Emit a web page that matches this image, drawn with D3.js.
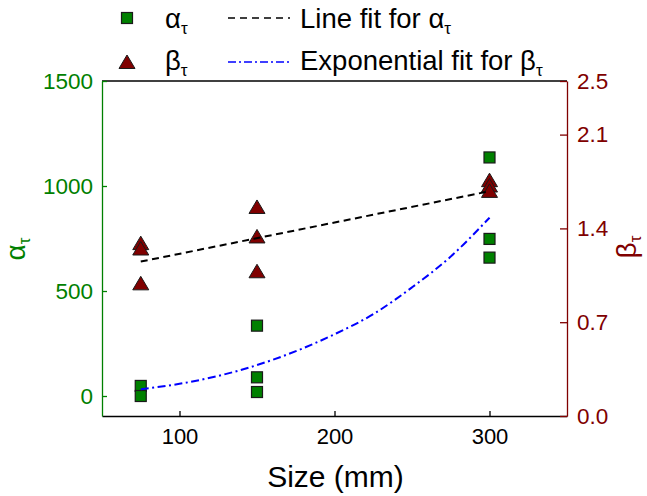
<!DOCTYPE html>
<html><head><meta charset="utf-8">
<script src="https://cdn.jsdelivr.net/npm/d3@7/dist/d3.min.js"></script>
<style>
body{margin:0;background:#fff;}
svg{display:block;font-family:"Liberation Sans",Arial,sans-serif;}
</style></head>
<body><svg id="c" width="647" height="496"></svg>
<script>
// ---- data ----
const alphaX = [75, 75, 150, 150, 150, 300, 300, 300];
const alphaY = [48, 0, 335, 89, 19, 1136, 748, 659];
const betaX = [75, 75, 75, 150, 150, 150, 300, 300, 300];
const betaY = [1.29, 1.25, 0.99, 1.56, 1.34, 1.08, 1.76, 1.72, 1.68];
const lineFitX = [75, 300];
const lineFitAlpha = [640, 975];
const expFitX = [75, 100, 150, 200, 225, 250, 275, 300];
const expFitBeta = [0.20, 0.24, 0.38, 0.61, 0.76, 0.96, 1.19, 1.48];
const xTicks = [100, 200, 300];
const leftTicks = [0, 500, 1000, 1500];
const rightTicks = [0, 0.7, 1.4, 2.1, 2.5];

const GREEN = "#008000", RED = "#800000", BLUE = "#0000ff";
const L = 102, R = 567, T = 81, B = 416;
const svg = d3.select("#c");

const x = d3.scaleLinear().domain([50, 350]).range([L, R]);
const yL = d3.scaleLinear().domain([-95.2, 1500]).range([B, T]);
const yR = d3.scaleLinear().domain([0, 2.5]).range([B, T]);

// top border
svg.append("line").attr("x1", L).attr("x2", R).attr("y1", T).attr("y2", T)
  .attr("stroke", "#000").attr("stroke-width", 1.3);

// bottom axis
const gx = svg.append("g").attr("transform", `translate(0,${B})`)
  .call(d3.axisBottom(x).tickValues(xTicks).tickFormat(d3.format("d")).tickSizeInner(-5).tickSizeOuter(0).tickPadding(12));
gx.select(".domain").attr("stroke", "#000").attr("stroke-width", 1.3);
gx.selectAll(".tick line").attr("stroke", "#000").attr("stroke-width", 1.3);
gx.selectAll("text").attr("font-size", 22).attr("fill", "#000").attr("font-family", "Liberation Sans, Arial, sans-serif");

// left axis
const gl = svg.append("g").attr("transform", `translate(${L},0)`)
  .call(d3.axisLeft(yL).tickValues(leftTicks).tickFormat(d3.format("d")).tickSizeInner(-5).tickSizeOuter(0).tickPadding(9));
gl.select(".domain").attr("stroke", GREEN).attr("stroke-width", 1.3);
gl.selectAll(".tick line").attr("stroke", GREEN).attr("stroke-width", 1.3);
gl.selectAll("text").attr("font-size", 22.5).attr("fill", GREEN).attr("font-family", "Liberation Sans, Arial, sans-serif");

// right axis
const gr = svg.append("g").attr("transform", `translate(${R},0)`)
  .call(d3.axisRight(yR).tickValues(rightTicks).tickFormat(d3.format(".1f")).tickSizeInner(-7).tickSizeOuter(0).tickPadding(10));
gr.select(".domain").attr("stroke", RED).attr("stroke-width", 1.3);
gr.selectAll(".tick line").attr("stroke", RED).attr("stroke-width", 1.3);
gr.selectAll("text").attr("font-size", 22.5).attr("fill", RED).attr("font-family", "Liberation Sans, Arial, sans-serif");

// axis titles
svg.append("text").attr("x", (L + R) / 2 + 1).attr("y", 487).attr("text-anchor", "middle")
  .attr("font-size", 30).attr("fill", "#000").text("Size (mm)");

function greekTitle(xp, yp, main, color) {
  const g = svg.append("g").attr("transform", `translate(${xp},${yp}) rotate(-90)`);
  const t = g.append("text").attr("x", 0).attr("y", 0)
    .attr("text-anchor", "middle").attr("font-size", 28).attr("fill", color);
  t.append("tspan").text(main);
  t.append("tspan").attr("font-size", 17).attr("dy", 5).text("τ");
}
greekTitle(25, 249, "α", GREEN);
greekTitle(636, 247, "β", RED);

// markers
const sq = 11;
svg.append("g").selectAll("rect").data(alphaX).join("rect")
  .attr("x", (d) => x(d) - sq / 2).attr("y", (d, i) => yL(alphaY[i]) - sq / 2)
  .attr("width", sq).attr("height", sq)
  .attr("fill", GREEN).attr("stroke", "#1a1a1a").attr("stroke-width", 1.2);

const tri = "M0,-7 L8,6.5 L-8,6.5 Z";
svg.append("g").selectAll("path").data(betaX).join("path")
  .attr("d", tri).attr("transform", (d, i) => `translate(${x(d)},${yR(betaY[i])})`)
  .attr("fill", RED).attr("stroke", "#1a1a1a").attr("stroke-width", 1);

// fit lines
const lineA = d3.line().x((d) => x(d)).y((d, i) => yL(lineFitAlpha[i]));
svg.append("path").attr("d", lineA(lineFitX)).attr("fill", "none")
  .attr("stroke", "#000").attr("stroke-width", 2).attr("stroke-dasharray", "7,4.5");
const lineB = d3.line().x((d) => x(d)).y((d, i) => yR(expFitBeta[i])).curve(d3.curveMonotoneX);
svg.append("path").attr("d", lineB(expFitX)).attr("fill", "none")
  .attr("stroke", BLUE).attr("stroke-width", 2).attr("stroke-dasharray", "8,3.5,2,3.5");

// legend
const lg = svg.append("g");
lg.append("rect").attr("x", 127 - sq / 2).attr("y", 18 - sq / 2).attr("width", sq).attr("height", sq)
  .attr("fill", GREEN).attr("stroke", "#1a1a1a").attr("stroke-width", 1.2);
lg.append("path").attr("d", tri).attr("transform", "translate(127,62)")
  .attr("fill", RED).attr("stroke", "#1a1a1a").attr("stroke-width", 1);
lg.append("line").attr("x1", 228).attr("x2", 290).attr("y1", 18).attr("y2", 18)
  .attr("stroke", "#000").attr("stroke-width", 1.5).attr("stroke-dasharray", "7,5");
lg.append("line").attr("x1", 228).attr("x2", 290).attr("y1", 62).attr("y2", 62)
  .attr("stroke", BLUE).attr("stroke-width", 1.5).attr("stroke-dasharray", "8,3,2,3");

function legText(xp, yp, pre, g) {
  const t = lg.append("text").attr("x", xp).attr("y", yp).attr("font-size", 27.5).attr("fill", "#000");
  t.append("tspan").text(pre + g);
  t.append("tspan").attr("font-size", 17).attr("dy", 6).text("τ");
}
legText(165, 28, "", "α");
legText(165, 70, "", "β");
legText(300, 28, "Line fit for ", "α");
legText(300, 70, "Exponential fit for ", "β");
</script></body></html>
